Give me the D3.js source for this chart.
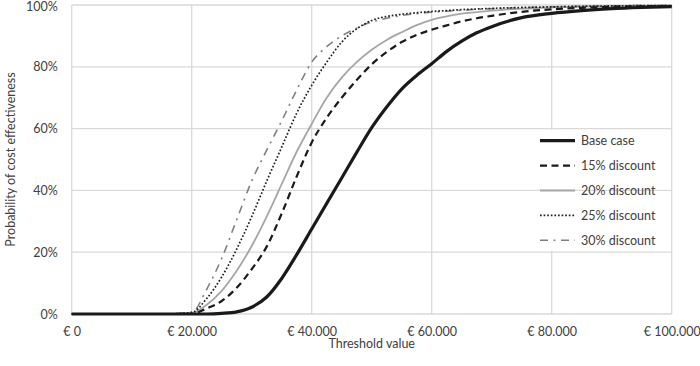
<!DOCTYPE html>
<html>
<head>
<meta charset="utf-8">
<script src="https://cdn.jsdelivr.net/npm/d3@7/dist/d3.min.js"></script>
<style>
  html, body { margin: 0; padding: 0; background: #fff; }
  svg { display: block; }
  text { font-family: Lato, "Open Sans", sans-serif; fill: #404040; }
</style>
</head>
<body>
<svg id="chart" width="700" height="366"></svg>
<script>
// ---- data ----
const thresholds = [0, 5000, 10000, 15000, 20000, 22500, 25000, 27500, 30000, 32500, 35000, 37500,
  40000, 42500, 45000, 47500, 50000, 52500, 55000, 57500, 60000, 62500, 65000, 67500, 70000,
  75000, 80000, 85000, 90000, 95000, 100000];

const baseCase = [0, 0, 0, 0, 0, 0, 0.2, 0.7, 2.2, 5.5, 11.5, 19.2, 27.5, 35.8, 44, 52.3, 60.3, 67, 72.8, 77.2,
  81, 85, 88.3, 91, 93, 95.9, 97.3, 98.2, 98.8, 99.2, 99.5];
const discount15 = [0, 0, 0, 0, 0, 1.8, 4.2, 8.5, 14.5, 21.8, 32.5, 44.5, 55.5, 63.5, 70, 75.7, 80.8, 84.8, 88, 90.3,
  92, 93.4, 94.7, 95.7, 96.5, 97.8, 98.6, 99.1, 99.4, 99.6, 99.7];
const discount20 = [0, 0, 0, 0, 0.3, 3, 7.5, 14, 22, 31.5, 42, 52.5, 61.5, 70, 76.5, 81.5, 85.5, 88.7, 91.2, 93.5,
  95.2, 96.3, 97.2, 97.7, 98.2, 98.8, 99.2, 99.5, 99.6, 99.7, 99.8];
const discount25 = [0, 0, 0, 0, 0.5, 5, 12, 21, 31.5, 43, 54, 65, 74, 81.5, 88, 92.3, 95, 96.3, 97, 97.5,
  97.9, 98.2, 98.5, 98.7, 98.9, 99.2, 99.4, 99.6, 99.7, 99.8, 99.8];
const discount30 = [0, 0, 0, 0, 0.5, 8, 18, 30.5, 43, 53, 62.5, 72.5, 81.5, 86.5, 90, 92.5, 94.5, 95.7, 96.6, 97.2,
  97.7, 98, 98.3, 98.6, 98.8, 99.1, 99.4, 99.6, 99.7, 99.8, 99.8];

const seriesNames = ["Base case", "15% discount", "20% discount", "25% discount", "30% discount"];
const xTicks = [0, 20000, 40000, 60000, 80000, 100000];
const yTicks = [0, 20, 40, 60, 80, 100];
const xTitle = "Threshold value";
const yTitle = "Probability of cost effectiveness";

// ---- styles ----
const styles = [
  { color: "#1a1a1a", width: 3.2, dash: null },
  { color: "#1a1a1a", width: 2.2, dash: "7,4.5" },
  { color: "#a6a6a6", width: 1.8, dash: null },
  { color: "#222222", width: 1.7, dash: "1.7,1.9" },
  { color: "#808080", width: 1.6, dash: "8,5.5,2,5.5" }
];

const svg = d3.select("#chart");
const m = { left: 71.7, right: 700 - 671.7, top: 5, bottom: 366 - 314 };
const W = 700 - m.left - m.right, H = 366 - m.top - m.bottom;

const x = d3.scaleLinear().domain([0, 100000]).range([m.left, m.left + W]);
const y = d3.scaleLinear().domain([0, 100]).range([m.top + H, m.top]);

const fmtEuro = v => "€ " + d3.format(",")(v).replace(/,/g, ".");

// vertical gridlines
svg.append("g").selectAll("line").data(xTicks).join("line")
  .attr("x1", d => x(d)).attr("x2", d => x(d))
  .attr("y1", y(0)).attr("y2", y(100))
  .attr("stroke", "#d9d9d9").attr("stroke-width", 1.3);

// legend background (hides vertical gridline)
const legX = 540, legY0 = 140.7, legDy = 24.9;
svg.append("rect").attr("x", 534).attr("y", 130).attr("width", 131).attr("height", 121)
  .attr("fill", "#fff");

// horizontal gridlines
svg.append("g").selectAll("line").data(yTicks).join("line")
  .attr("x1", x(0)).attr("x2", x(100000))
  .attr("y1", d => y(d)).attr("y2", d => y(d))
  .attr("stroke", "#d9d9d9").attr("stroke-width", 1.3);

// axes labels via d3 axes
const xAxis = d3.axisBottom(x).tickValues(xTicks).tickFormat(fmtEuro).tickSize(0).tickPadding(13);
const gx = svg.append("g").attr("transform", `translate(0,${y(0)})`).call(xAxis);
gx.select(".domain").remove();
gx.selectAll("text").style("font-size", "12.5px").attr("fill", "#404040");

const yAxis = d3.axisLeft(y).tickValues(yTicks).tickFormat(d => d + "%").tickSize(0).tickPadding(14);
const gy = svg.append("g").attr("transform", `translate(${x(0)},0)`).call(yAxis);
gy.select(".domain").remove();
gy.selectAll("text").style("font-size", "12.5px").attr("fill", "#404040")
  .attr("dy", d => d === 100 ? "0.42em" : "0.32em");

// titles
svg.append("text").attr("x", x(50000)).attr("y", 348).attr("text-anchor", "middle")
  .style("font-size", "12.5px").text(xTitle);
svg.append("text").attr("transform", `translate(14.5,${y(50)}) rotate(-90)`)
  .attr("text-anchor", "middle").style("font-size", "12.5px").text(yTitle);

// lines
const allSeries = [baseCase, discount15, discount20, discount25, discount30];
const line = d3.line().x((d, i) => x(thresholds[i])).y(d => y(d)).curve(d3.curveMonotoneX);
const order = [2, 4, 3, 1, 0];
order.forEach(k => {
  svg.append("path").datum(allSeries[k])
    .attr("d", line)
    .attr("fill", "none")
    .attr("stroke", styles[k].color)
    .attr("stroke-width", styles[k].width)
    .attr("stroke-dasharray", styles[k].dash)
    .attr("stroke-linejoin", "round");
});

// legend
seriesNames.forEach((name, k) => {
  const yy = legY0 + k * legDy;
  svg.append("line").attr("x1", legX).attr("x2", legX + 35).attr("y1", yy).attr("y2", yy)
    .attr("stroke", styles[k].color).attr("stroke-width", styles[k].width)
    .attr("stroke-dasharray", styles[k].dash);
  svg.append("text").attr("x", legX + 41).attr("y", yy).attr("dy", "0.35em")
    .style("font-size", "12.5px").text(name);
});
</script>
</body>
</html>
